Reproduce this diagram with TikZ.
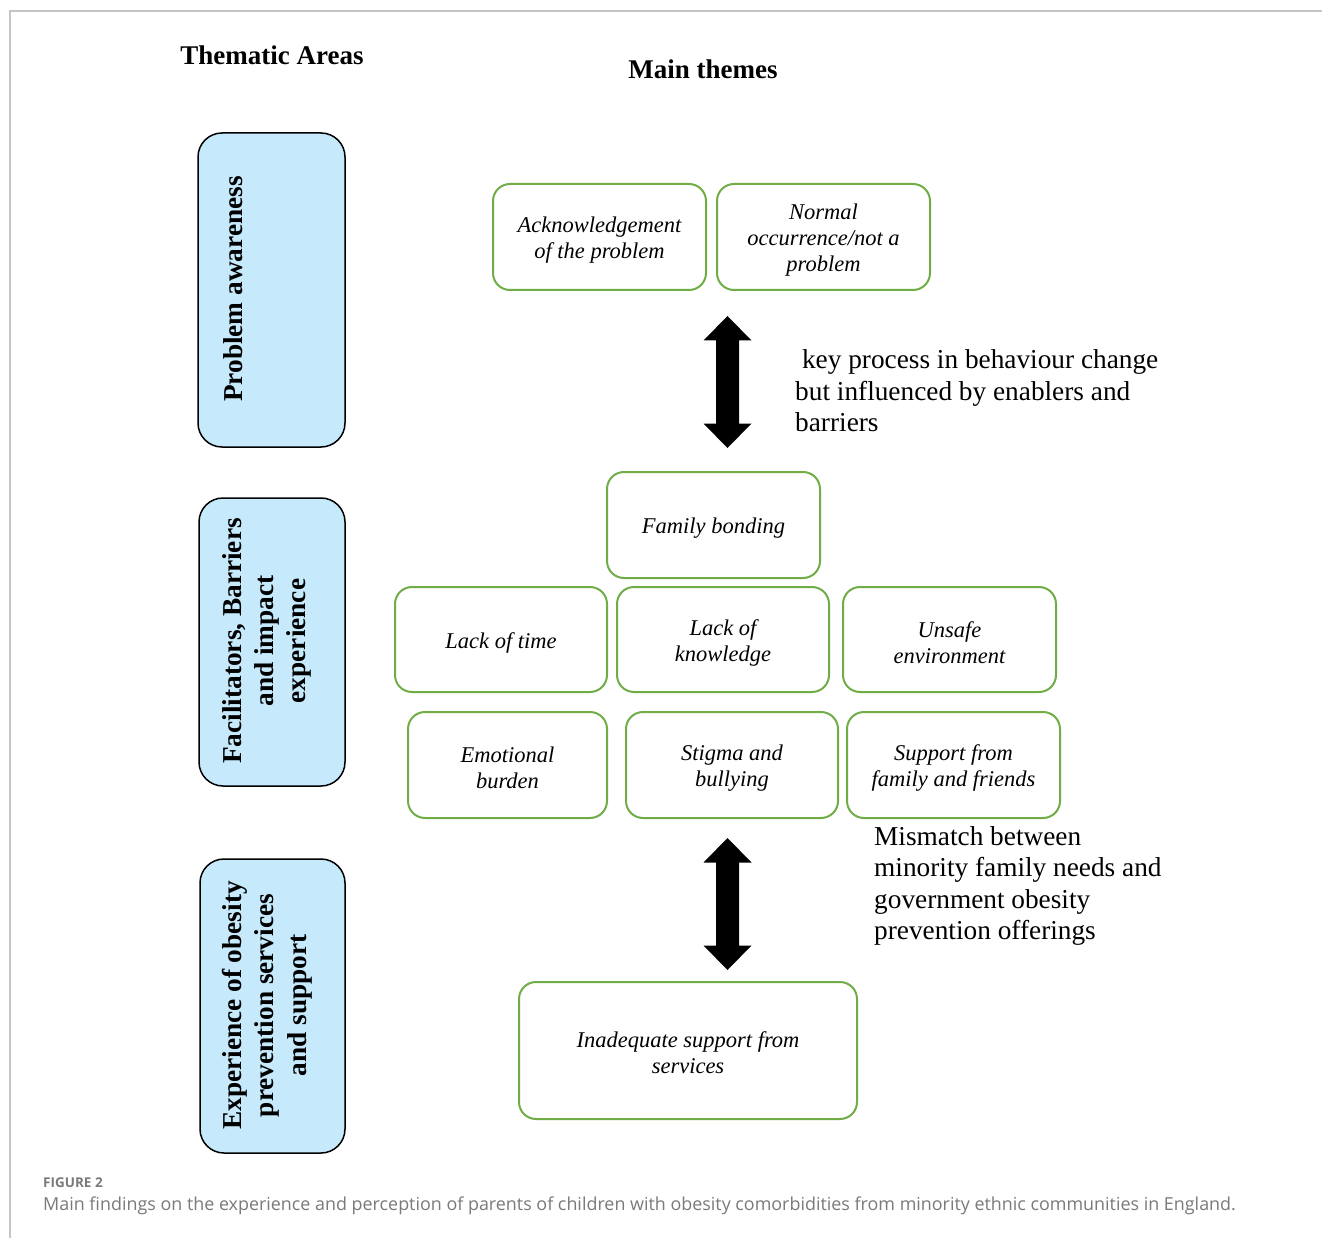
\documentclass[tikz,border=0pt]{standalone}
\usepackage{fontspec}
\setmainfont{Liberation Serif}
\newfontfamily\capfont{Open Sans}
\definecolor{areablue}{HTML}{C6E9FB}
\definecolor{themegreen}{HTML}{70AD47}
\definecolor{framegray}{HTML}{C4C4C4}
\definecolor{capgray}{HTML}{7A7A7A}
\begin{document}
\begin{tikzpicture}[x=1pt,y=-1pt,
  areabox/.style={draw=black, line width=1.5pt, fill=areablue, rounded corners=24pt, inner sep=0pt},
  areatext/.style={inner sep=0pt, align=center, rotate=90,
    font=\fontsize{27.3}{32.3}\selectfont\bfseries},
  themebox/.style={draw=themegreen, line width=2pt, rounded corners=17pt, inner sep=0pt},
  themetext/.style={inner sep=0pt, align=center, font=\fontsize{22.5}{26}\selectfont\itshape},
  heading/.style={font=\fontsize{27}{32}\selectfont\bfseries},
  note/.style={align=left, inner sep=0pt, anchor=west, font=\fontsize{27.3}{31.5}\selectfont},
  bigarrow/.style={fill=black}
]
\useasboundingbox (0,0) rectangle (1322,1238);
\fill[white] (0,0) rectangle (1322,1238);
% frame
\coordinate (fTL) at (10,11);
\coordinate (fTR) at (1322,11);
\coordinate (fBL) at (10,1238);
\draw[framegray, line width=1.3pt] (fTR) -- (fTL) -- (fBL);

% headings
\node[heading] (hTA) at (272,55) {Thematic Areas};
\node[heading] (hMT) at (703,69) {Main themes};

% thematic area boxes
\node[areabox, minimum width=147pt, minimum height=314pt] (pa) at (271.5,290) {};
\node[areatext] (paT) at (233,289) {Problem awareness};
\node[areabox, minimum width=146pt, minimum height=288pt] (fb) at (272,642) {};
\node[areatext] (fbT) at (267,641) {Facilitators, Barriers\\and impact\\experience};
\node[areabox, minimum width=145pt, minimum height=294pt] (ex) at (272.5,1006) {};
\node[areatext] (exT) at (267,1005.5) {Experience of obesity\\prevention services\\and support};

% theme boxes
\node[themebox, minimum width=213pt, minimum height=106pt] (ack) at (599.5,237) {};
\node[themetext] (ackT) at ([yshift=-3pt]ack.center) {Acknowledgement\\of the problem};
\node[themebox, minimum width=213pt, minimum height=106pt] (norm) at (823.5,237) {};
\node[themetext] (normT) at ([yshift=-3pt]norm.center) {Normal\\occurrence/not a\\problem};
\node[themebox, minimum width=213pt, minimum height=106pt] (fam) at (713.5,525) {};
\node[themetext] (famT) at ([yshift=-3pt]fam.center) {Family bonding};
\node[themebox, minimum width=212pt, minimum height=105pt] (time) at (501,639.5) {};
\node[themetext] (timeT) at ([yshift=-3pt]time.center) {Lack of time};
\node[themebox, minimum width=212pt, minimum height=105pt] (know) at (723,639.5) {};
\node[themetext] (knowT) at ([yshift=-3pt]know.center) {Lack of\\knowledge};
\node[themebox, minimum width=213pt, minimum height=105pt] (unsafe) at (949.5,639.5) {};
\node[themetext] (unsafeT) at ([yshift=-3pt]unsafe.center) {Unsafe\\environment};
\node[themebox, minimum width=199pt, minimum height=106pt] (emo) at (507.5,765) {};
\node[themetext] (emoT) at ([yshift=-3pt]emo.center) {Emotional\\burden};
\node[themebox, minimum width=212pt, minimum height=106pt] (stig) at (732,765) {};
\node[themetext] (stigT) at ([yshift=-3pt]stig.center) {Stigma and\\bullying};
\node[themebox, minimum width=213pt, minimum height=106pt] (supp) at (953.5,765) {};
\node[themetext] (suppT) at ([yshift=-3pt]supp.center) {Support from\\family and friends};
\node[themebox, minimum width=338pt, minimum height=137pt] (inad) at (688,1050.5) {};
\node[themetext] (inadT) at ([yshift=-2pt]inad.center) {Inadequate support from\\services};

% notes
\node[note] (n1) at (795,391) {\ key process in behaviour change\\but influenced by enablers and\\barriers};
\node[note] (n2) at (874,886) {Mismatch between\\minority family needs and\\government obesity\\prevention offerings};

% double arrows
\coordinate (a1t) at (727.5,316);
\coordinate (a1b) at (727.5,448);
\fill[bigarrow] (a1t) -- ++(24,24.5) -- ++(-12.5,0) -- ++(0,83) -- ++(12.5,0) -- (a1b)
  -- ++(-24,-24.5) -- ++(12.5,0) -- ++(0,-83) -- ++(-12.5,0) -- cycle;
\coordinate (a2t) at (727.5,838);
\coordinate (a2b) at (727.5,970);
\fill[bigarrow] (a2t) -- ++(24,24.5) -- ++(-12.5,0) -- ++(0,83) -- ++(12.5,0) -- (a2b)
  -- ++(-24,-24.5) -- ++(12.5,0) -- ++(0,-83) -- ++(-12.5,0) -- cycle;

% caption
\node[anchor=west, inner sep=0pt, text=capgray, font=\capfont\bfseries\fontsize{13.5}{16}\selectfont] (figlabel) at (43,1183) {FIGURE 2};
\node[anchor=west, inner sep=0pt, text=capgray, font=\capfont\fontsize{17.9}{21}\selectfont] (caption) at (43,1206) {Main findings on the experience and perception of parents of children with obesity comorbidities from minority ethnic communities in England.};
\end{tikzpicture}
\end{document}
